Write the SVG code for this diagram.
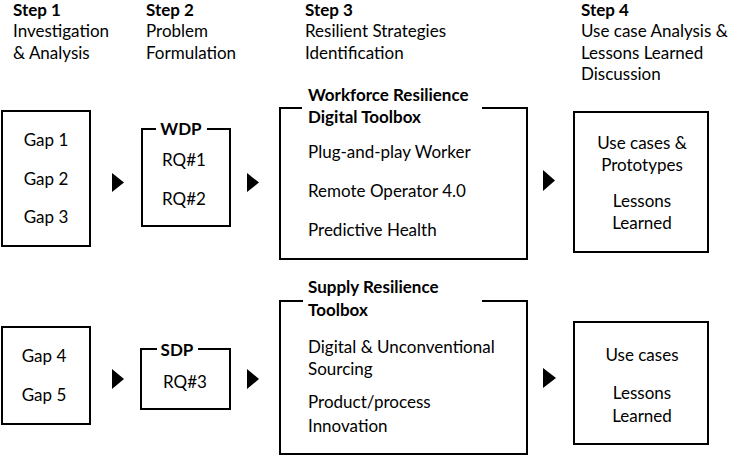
<svg xmlns="http://www.w3.org/2000/svg" width="731" height="456" viewBox="0 0 731 456">
<style>
text{font-family:Lato,"Open Sans","Liberation Sans",sans-serif;font-size:17px;fill:#000}
.b{font-weight:bold}
.m{text-anchor:middle}
.box{fill:none;stroke:#000;stroke-width:2}
.arr{fill:#000}
</style>
<rect width="731" height="456" fill="#fff"/>
<g id="headers">
<text class="b" x="13" y="16">Step 1</text>
<text x="13" y="37">Investigation</text>
<text x="13" y="58.5">&amp; Analysis</text>
<text class="b" x="146" y="16">Step 2</text>
<text x="146" y="37">Problem</text>
<text x="146" y="58.5">Formulation</text>
<text class="b" x="305" y="16">Step 3</text>
<text x="305" y="37">Resilient Strategies</text>
<text x="305" y="58.5">Identification</text>
<text class="b" x="581" y="16">Step 4</text>
<text x="581" y="37">Use case Analysis &amp;</text>
<text x="581" y="58.5">Lessons Learned</text>
<text x="581" y="80">Discussion</text>
</g>
<g id="gaps1">
<rect class="box" x="2" y="111" width="88" height="135"/>
<text class="m" x="46" y="146">Gap 1</text>
<text class="m" x="46" y="185">Gap 2</text>
<text class="m" x="46" y="223">Gap 3</text>
</g>
<g id="wdp">
<path class="box" d="M156,129 H142 V226 H230 V129 H207"/>
<text class="b m" x="181" y="135">WDP</text>
<text class="m" x="184" y="166">RQ#1</text>
<text class="m" x="184" y="205">RQ#2</text>
</g>
<g id="workforce">
<path class="box" d="M302,108 H280 V259 H527 V108 H482"/>
<text class="b" x="308" y="101">Workforce Resilience</text>
<text class="b" x="308" y="123">Digital Toolbox</text>
<text x="308" y="158">Plug-and-play  Worker</text>
<text x="308" y="197">Remote Operator 4.0</text>
<text x="308" y="236">Predictive Health</text>
</g>
<g id="usecases1">
<rect class="box" x="574" y="112" width="134" height="140"/>
<text class="m" x="642" y="149">Use cases &amp;</text>
<text class="m" x="642" y="171">Prototypes</text>
<text class="m" x="642" y="207">Lessons</text>
<text class="m" x="642" y="229">Learned</text>
</g>
<g id="gaps2">
<rect class="box" x="2" y="327" width="88" height="97"/>
<text class="m" x="44" y="362">Gap 4</text>
<text class="m" x="44" y="401">Gap 5</text>
</g>
<g id="sdp">
<path class="box" d="M157,349 H141 V409 H230 V349 H198"/>
<text class="b m" x="177" y="356">SDP</text>
<text class="m" x="185" y="388">RQ#3</text>
</g>
<g id="supply">
<path class="box" d="M303,301 H280 V454 H527 V301 H482"/>
<text class="b" x="308" y="293">Supply Resilience</text>
<text class="b" x="308" y="316">Toolbox</text>
<text x="308" y="353">Digital &amp; Unconventional</text>
<text x="308" y="375">Sourcing</text>
<text x="308" y="408">Product/process</text>
<text x="308" y="432">Innovation</text>
</g>
<g id="usecases2">
<rect class="box" x="574" y="322" width="134" height="122"/>
<text class="m" x="642" y="361">Use cases</text>
<text class="m" x="642" y="399">Lessons</text>
<text class="m" x="642" y="422">Learned</text>
</g>
<g id="connectors">
<path class="arr" d="M112,173 L124,182.5 L112,192 Z"/>
<path class="arr" d="M247,173 L259,182.5 L247,192 Z"/>
<path class="arr" d="M543,170 L555,180.5 L543,191 Z"/>
<path class="arr" d="M112,369 L124,379 L112,389 Z"/>
<path class="arr" d="M247,369 L259,379 L247,389 Z"/>
<path class="arr" d="M543,368 L556,378 L543,388 Z"/>
</g>
</svg>
